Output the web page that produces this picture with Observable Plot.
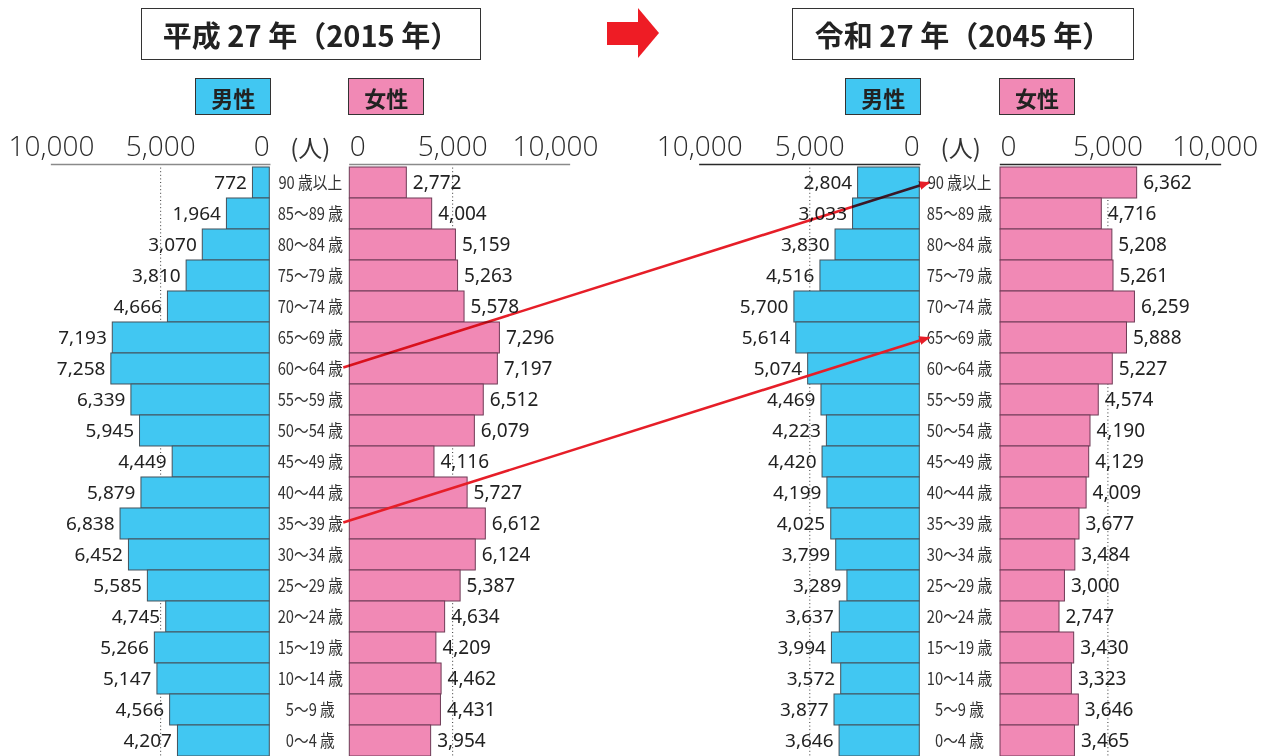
<!DOCTYPE html>
<html><head><meta charset="utf-8">
<script src="https://cdn.jsdelivr.net/npm/d3@7"></script>
<script src="https://cdn.jsdelivr.net/npm/@observablehq/plot@0.6"></script>
<style>
html,body{margin:0;padding:0;background:#fff;overflow:hidden;width:1277px;height:756px}
#wrap{position:relative;width:1277px;height:756px;overflow:hidden;font-family:"Noto Sans CJK JP","Noto Sans",sans-serif}
#wrap svg.layer{position:absolute;left:0;top:0}
.title{position:absolute;top:8px;height:52px;border:1.5px solid #333;box-sizing:border-box;display:flex;align-items:center;justify-content:center;font-weight:700;font-size:29px;color:#222;background:#fff;white-space:pre}
.sex{position:absolute;top:78px;height:37px;border:1.5px solid #333;box-sizing:border-box;display:flex;align-items:center;justify-content:center;font-weight:700;font-size:22px;color:#222}
.unit{position:absolute;top:131px;font-size:24px;line-height:32px;color:#333;transform:translateX(-50%);white-space:pre}
</style></head>
<body><div id="wrap"></div>
<script>
// ---- data ----
const ages = ["90歳以上","85〜89歳","80〜84歳","75〜79歳","70〜74歳","65〜69歳","60〜64歳","55〜59歳","50〜54歳","45〜49歳","40〜44歳","35〜39歳","30〜34歳","25〜29歳","20〜24歳","15〜19歳","10〜14歳","5〜9歳","0〜4歳"];
const male2015   = [772,1964,3070,3810,4666,7193,7258,6339,5945,4449,5879,6838,6452,5585,4745,5266,5147,4566,4207];
const female2015 = [2772,4004,5159,5263,5578,7296,7197,6512,6079,4116,5727,6612,6124,5387,4634,4209,4462,4431,3954];
const male2045   = [2804,3033,3830,4516,5700,5614,5074,4469,4223,4420,4199,4025,3799,3289,3637,3994,3572,3877,3646];
const female2045 = [6362,4716,5208,5261,6259,5888,5227,4574,4190,4129,4009,3677,3484,3000,2747,3430,3323,3646,3465];
const axisTicks = [0, 5000, 10000];
const titles = ["平成 27 年（2015 年）", "令和 27 年（2045 年）"];
const sexLabels = ["男性", "女性"];
const unitLabel = "(人)";
const arrowFrom = ["60〜64歳", "35〜39歳"];
const arrowTo   = ["90歳以上", "65〜69歳"];

// ---- style / layout ----
const fmt = d3.format(",");
const MALE_FILL = "#41C7F2", FEMALE_FILL = "#F189B5";
const MALE_STROKE = "#44525c", FEMALE_STROKE = "#6e3b56";
const RED = "#E61E28";
const H = 762, TOP = 164, BOTTOM = 759.5;
const TICK_FONT = "'Open Sans','Noto Sans',sans-serif";
const wrap = document.getElementById("wrap");

function tickMarks(anchorZero) {
  return [
    Plot.text(axisTicks.filter(t => t > 0), {x: d => d, frameAnchor: "top", dy: -17, lineAnchor: "middle", text: d => fmt(d), fontSize: 28, fontWeight: 300, fontFamily: TICK_FONT, fill: "#2a2a2a"}),
    Plot.text(axisTicks.filter(t => t === 0), {x: d => d, frameAnchor: "top", dy: -17, lineAnchor: "middle", textAnchor: anchorZero, text: d => fmt(d), fontSize: 28, fontWeight: 300, fontFamily: TICK_FONT, fill: "#2a2a2a"})
  ];
}

function malePlot(values, zero, end, max, axisColor) {
  const data = ages.map((a, i) => ({age: a, v: values[i]}));
  return Plot.plot({
    width: zero + 12, height: H,
    marginLeft: end, marginRight: 12, marginTop: TOP, marginBottom: H - BOTTOM,
    x: {domain: [0, max], reverse: true, axis: null},
    y: {domain: ages, padding: 0, axis: null},
    style: {background: "transparent", overflow: "visible", fontFamily: "'Noto Sans', sans-serif"},
    marks: [
      Plot.ruleX([5000], {stroke: "#333", strokeWidth: 1, strokeDasharray: "1,2.6"}),
      Plot.barX(data, {x: "v", y: "age", fill: MALE_FILL, stroke: MALE_STROKE, strokeWidth: 1}),
      Plot.text(data, {x: "v", y: "age", text: d => fmt(d.v), textAnchor: "end", dx: -6, fontSize: 19, fill: "#222"}),
      Plot.frame({anchor: "top", stroke: axisColor, strokeWidth: 1.3}),
      ...tickMarks("end")
    ]
  });
}

function femalePlot(values, zero, end, max, axisColor, labelGap, total) {
  const data = ages.map((a, i) => ({age: a, v: values[i]}));
  return Plot.plot({
    width: total, height: H,
    marginLeft: zero, marginRight: total - end, marginTop: TOP, marginBottom: H - BOTTOM,
    x: {domain: [0, max], axis: null},
    y: {domain: ages, padding: 0},
    style: {background: "transparent", overflow: "visible", fontFamily: "'Noto Sans', sans-serif"},
    marks: [
      Plot.axisY({anchor: "left", tickSize: 0, tickPadding: labelGap, textAnchor: "middle", label: null,
        tickFormat: d => d.replace("歳", " 歳"), fontSize: 17.5, fill: "#333",
        fontFamily: "'Noto Sans CJK JP', sans-serif"}),
      Plot.ruleX([5000], {stroke: "#333", strokeWidth: 1, strokeDasharray: "1,2.6"}),
      Plot.barX(data, {x: "v", y: "age", fill: FEMALE_FILL, stroke: FEMALE_STROKE, strokeWidth: 1}),
      Plot.text(data, {x: "v", y: "age", text: d => fmt(d.v), textAnchor: "start", dx: 6, fontSize: 19, fill: "#222"}),
      Plot.frame({anchor: "top", stroke: axisColor, strokeWidth: 1.3}),
      ...tickMarks("start")
    ]
  });
}

const mL = malePlot(male2015, 269.3, 51, 10000, "#8a8a8a");
const fL = femalePlot(female2015, 349.3, 569, 10680, "#8a8a8a", 39.5, 620);
const mR = malePlot(male2045, 919.3, 699.3, 10000, "#2a2a2a");
const fR = femalePlot(female2045, 1000, 1220, 10242, "#2a2a2a", 41, 1277);

for (const p of [mL, fL, mR, fR]) {
  p.classList.add("layer");
  wrap.appendChild(p);
}
// condense the age labels horizontally
for (const p of [fL, fR]) {
  d3.select(p).selectAll("g[aria-label='y-axis tick label'] text").each(function() {
    const t = this.getAttribute("transform");
    this.setAttribute("transform", (t ? t + " " : "") + "scale(0.84,1)");
  });
}

// ---- titles & boxes ----
function addDiv(cls, text, css) {
  const d = document.createElement("div");
  d.className = cls; d.textContent = text;
  Object.assign(d.style, css);
  wrap.appendChild(d);
  return d;
}
addDiv("title", titles[0], {left: "141px", width: "340px"});
addDiv("title", titles[1], {left: "792px", width: "342px"});

const panels = [{m: mL, f: fL}, {m: mR, f: fR}];
for (const {m, f} of panels) {
  const mz = m.scale("x").apply(0), fz = f.scale("x").apply(0);
  addDiv("sex", sexLabels[0], {left: (mz - 74) + "px", width: "76px", background: MALE_FILL});
  addDiv("sex", sexLabels[1], {left: (fz - 1) + "px", width: "76px", background: FEMALE_FILL});
  addDiv("unit", unitLabel, {left: ((mz + fz) / 2 + 1) + "px"});
}

// big red block arrow between titles
addDiv("", "", {position: "absolute", left: "607px", top: "22px", width: "32px", height: "23px", background: "#EE1C25"});
addDiv("", "", {position: "absolute", left: "638px", top: "8px", width: "0", height: "0",
  borderTop: "25px solid transparent", borderBottom: "25px solid transparent", borderLeft: "21px solid #EE1C25"});

// ---- connecting arrows, positioned through the plots' scales ----
const yL = fL.scale("y"), yR = mR.scale("y");
const startX = fL.scale("x").apply(0) - 6;
const endX = mR.scale("x").apply(0) + 10;
arrowFrom.forEach((from, i) => {
  const svg = d3.select(wrap).append("svg").attr("class", "layer")
    .attr("width", 1277).attr("height", 756)
    .style("mix-blend-mode", i === 0 ? "multiply" : "normal");
  const id = "ah" + i;
  svg.append("defs").append("marker").attr("id", id)
    .attr("markerUnits", "userSpaceOnUse").attr("markerWidth", 11).attr("markerHeight", 9)
    .attr("refX", 10).attr("refY", 4.5).attr("orient", "auto")
    .append("path").attr("d", "M0,0L11,4.5L0,9Z").attr("fill", RED);
  const y1 = yL.apply(from) + yL.bandwidth / 2 - 1;
  const y2 = yR.apply(arrowTo[i]) + yR.bandwidth / 2;
  svg.append("line").attr("x1", startX).attr("y1", y1).attr("x2", endX).attr("y2", y2)
    .attr("stroke", RED).attr("stroke-width", 2.6).attr("marker-end", `url(#${id})`);
});
</script>
</body></html>
